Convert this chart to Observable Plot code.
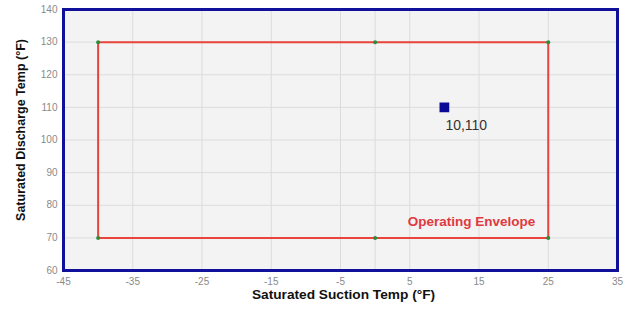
<!DOCTYPE html>
<html>
<head>
<meta charset="utf-8">
<script src="https://cdn.jsdelivr.net/npm/d3@7"></script>
<script src="https://cdn.jsdelivr.net/npm/@observablehq/plot@0.6"></script>
<style>
  html, body { margin: 0; padding: 0; background: #fff; }
  #chart svg { display: block; font-family: "Liberation Sans", Arial, sans-serif; }
</style>
</head>
<body>
<div id="chart"></div>
<script>
// Data
const envelopeX = [-40, 0, 25, 25, 0, -40, -40];
const envelopeY = [130, 130, 130, 70, 70, 70, 130];
const vertexX = [-40, 0, 25, 25, 0, -40];
const vertexY = [130, 130, 130, 70, 70, 70];
const pointX = [10];
const pointY = [110];
const pointLabel = ["10,110"];
const xTicks = [-45, -35, -25, -15, -5, 5, 15, 25, 35];
const xGrid = [-45, -35, -25, -15, -5, 0, 5, 15, 25, 35];
const yTicks = [60, 70, 80, 90, 100, 110, 120, 130, 140];
const xTitle = ["Saturated Suction Temp (°F)"];
const yTitle = ["Saturated Discharge Temp (°F)"];
const envelopeLabel = ["Operating Envelope"];

const envelope = envelopeX.map((x, i) => ({x, y: envelopeY[i]}));
const vertices = vertexX.map((x, i) => ({x, y: vertexY[i]}));
const points = pointX.map((x, i) => ({x, y: pointY[i], label: pointLabel[i]}));

const chart = Plot.plot({
  width: 630,
  height: 309,
  marginLeft: 63,
  marginRight: 13,
  marginTop: 9,
  marginBottom: 39,
  x: {domain: [-45, 35]},
  y: {domain: [60, 140]},
  marks: [
    Plot.frame({fill: "#f3f3f3", stroke: null}),
    Plot.gridX(xGrid, {stroke: "#dcdcdc", strokeOpacity: 1, strokeWidth: 1}),
    Plot.gridY(yTicks, {stroke: "#dcdcdc", strokeOpacity: 1, strokeWidth: 1}),
    Plot.axisX(xTicks, {tickSize: 0, tickPadding: 7, tickFormat: d => String(d), fill: "#8a8a8a", fontSize: 10, label: null}),
    Plot.axisY(yTicks, {tickSize: 0, tickPadding: 6, tickFormat: d => String(d), fill: "#8a8a8a", fontSize: 10, label: null}),
    Plot.line(envelope, {x: "x", y: "y", stroke: "#e8443c", strokeWidth: 2}),
    Plot.dot(vertices, {x: "x", y: "y", r: 2, fill: "#2e8b3e", stroke: null}),
    Plot.dot(points, {x: "x", y: "y", symbol: "square", r: 5.5, fill: "#0a0a96", stroke: null}),
    Plot.text(points, {x: "x", y: "y", text: "label", textAnchor: "start", dx: 1, dy: 18, fontSize: 14, fill: "#333"}),
    Plot.text(envelopeLabel, {x: () => 25, y: () => 70, text: d => d, textAnchor: "end", dx: -13, dy: -16, fontSize: 13.5, fontWeight: "bold", fill: "#e0393e"}),
    Plot.frame({stroke: "#10109a", strokeWidth: 3}),
    Plot.text(xTitle, {frameAnchor: "bottom", text: d => d, textAnchor: "middle", dx: 3, dy: 28, fontSize: 13.7, fontWeight: "bold", fill: "#111"}),
    Plot.text(yTitle, {frameAnchor: "left", text: d => d, textAnchor: "middle", rotate: -90, dx: -43, dy: -10, fontSize: 12.5, fontWeight: "bold", fill: "#111"})
  ]
});
document.getElementById("chart").appendChild(chart);
</script>
</body>
</html>
